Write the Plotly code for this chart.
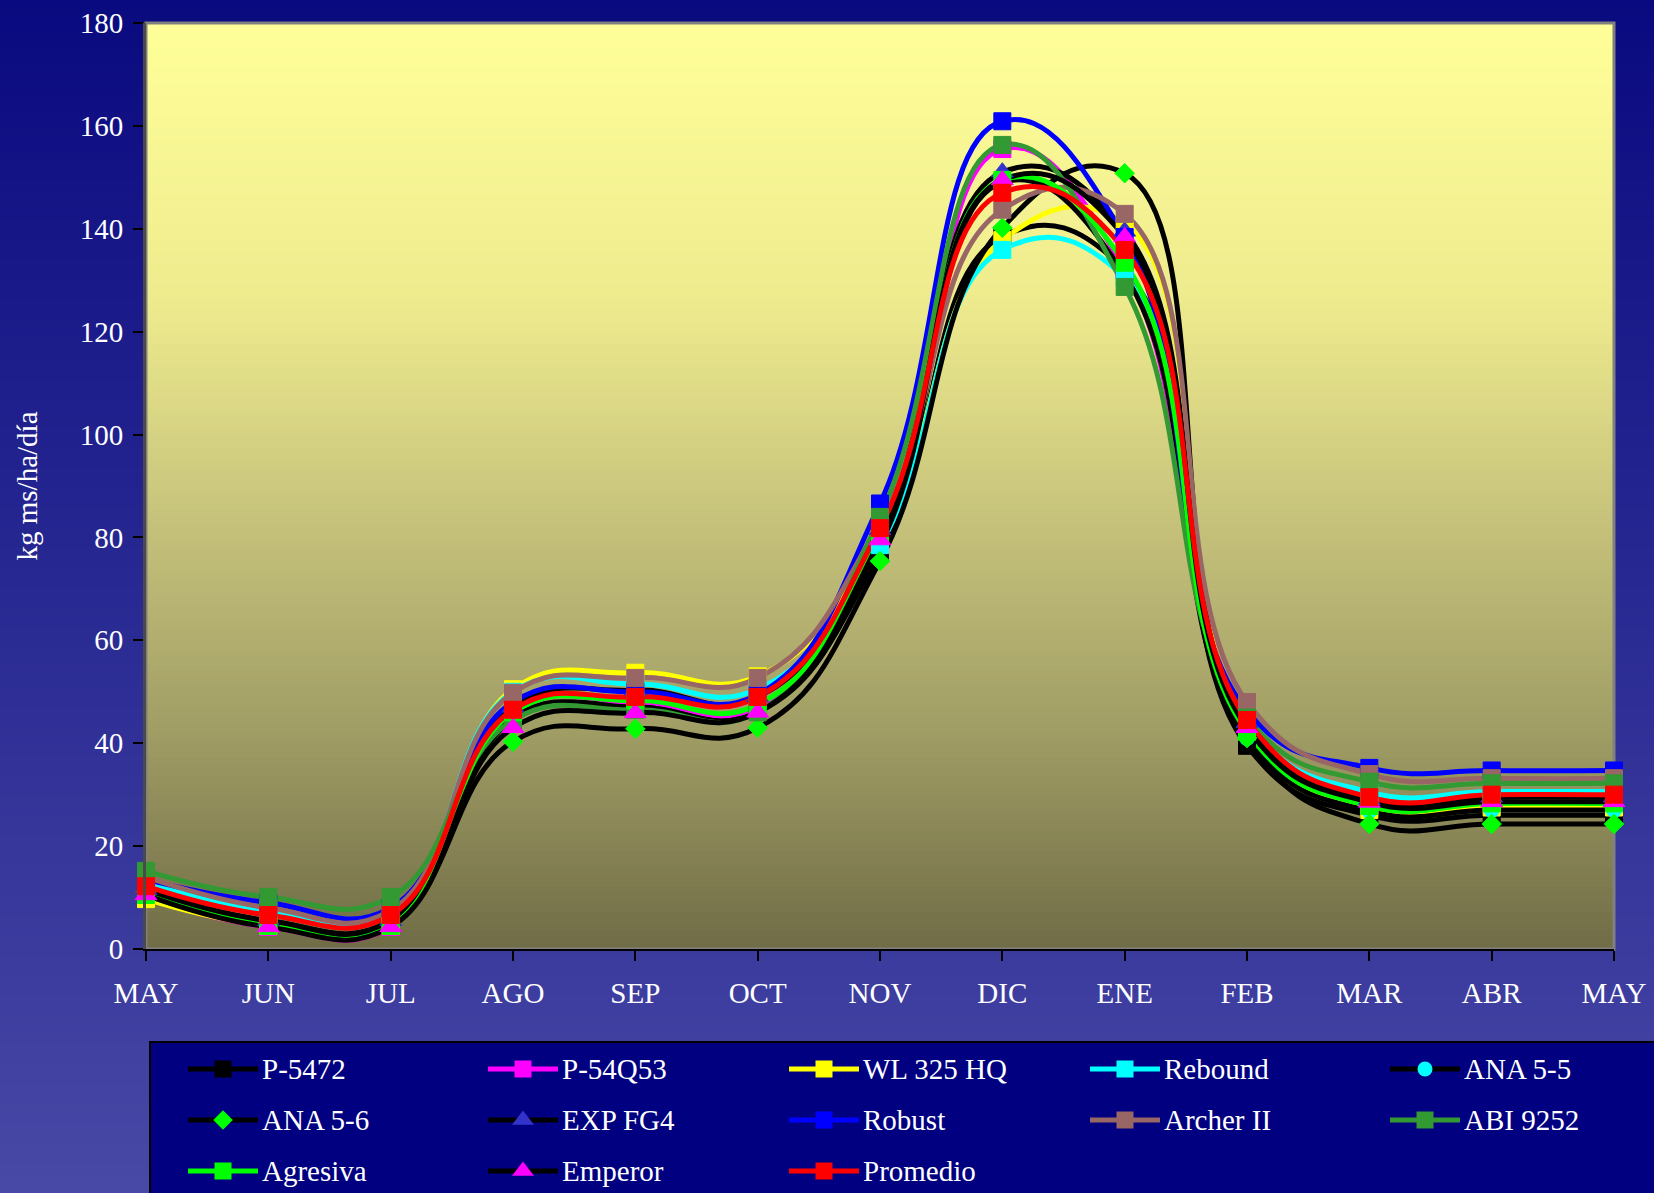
import plotly.graph_objects as go

# ---------------------------------------------------------------- data
months = ["MAY", "JUN", "JUL", "AGO", "SEP", "OCT", "NOV",
          "DIC", "ENE", "FEB", "MAR", "ABR", "MAY"]

p_5472    = [11.5, 5.5, 5.5, 44.5, 47.5, 46.5, 77.0, 138.5, 132.0, 39.5, 26.0, 26.0, 26.0]
p_54q53   = [10.0, 4.3, 4.3, 46.5, 48.0, 47.0, 79.0, 155.5, 132.0, 43.0, 27.6, 28.0, 28.0]
wl_325_hq = [9.7, 4.5, 4.5, 50.5, 53.7, 53.0, 80.0, 137.8, 141.0, 43.0, 27.0, 27.5, 27.5]
rebound   = [13.0, 7.5, 7.0, 50.0, 51.5, 50.5, 78.5, 135.9, 130.5, 44.0, 30.5, 30.6, 30.6]
ana_5_5   = [11.0, 5.0, 5.0, 45.0, 47.0, 46.0, 78.5, 149.0, 131.0, 41.0, 26.8, 27.0, 27.0]
ana_5_6   = [11.0, 5.0, 5.0, 40.3, 42.8, 43.0, 75.4, 140.2, 150.8, 41.0, 24.3, 24.3, 24.3]
exp_fg4   = [11.5, 5.5, 5.5, 47.0, 50.3, 49.0, 81.5, 151.0, 139.5, 44.0, 29.0, 29.5, 29.5]
robust    = [13.5, 9.0, 8.0, 48.0, 50.0, 49.5, 86.6, 160.9, 138.4, 46.3, 35.2, 34.7, 34.7]
archer_ii = [14.0, 8.0, 7.5, 49.8, 52.7, 52.7, 83.0, 143.7, 142.9, 48.0, 34.0, 33.2, 33.2]
abi_9252  = [15.2, 10.1, 10.1, 44.5, 46.5, 46.0, 84.0, 156.3, 128.7, 45.0, 32.5, 32.2, 32.2]
agresiva  = [10.5, 4.5, 4.5, 46.0, 48.3, 47.5, 81.0, 149.5, 133.4, 42.2, 27.8, 28.3, 28.3]
emperor   = [10.5, 4.3, 4.3, 43.0, 45.9, 46.0, 79.5, 149.5, 138.4, 43.0, 28.5, 28.6, 28.6]
promedio  = [12.2, 6.6, 6.6, 46.5, 49.0, 49.0, 81.8, 147.0, 135.9, 44.5, 29.5, 30.0, 30.0]

names = ["P-5472", "P-54Q53", "WL 325 HQ", "Rebound", "ANA 5-5",
         "ANA 5-6", "EXP FG4", "Robust", "Archer II", "ABI 9252",
         "Agresiva", "Emperor", "Promedio"]
values = [p_5472, p_54q53, wl_325_hq, rebound, ana_5_5,
          ana_5_6, exp_fg4, robust, archer_ii, abi_9252,
          agresiva, emperor, promedio]

# ---------------------------------------------------------------- styles
# (line colour, marker symbol, marker colour, marker size)
styles = [
    ("#000000", "square", "#000000", 17),
    ("#FF00FF", "square", "#FF00FF", 17),
    ("#FFFF00", "square", "#FFFF00", 17),
    ("#00FFFF", "square", "#00FFFF", 17),
    ("#000000", "circle", "#00FFFF", 15),
    ("#000000", "diamond", "#00FF00", 15),
    ("#000000", "triangle-up", "#3333CC", 19),
    ("#0000FF", "square", "#0000FF", 17),
    ("#996666", "square", "#996666", 17),
    ("#339933", "square", "#339933", 17),
    ("#00FF00", "square", "#00FF00", 17),
    ("#000000", "triangle-up", "#FF00FF", 19),
    ("#FF0000", "square", "#FF0000", 17),
]

FONT = "Liberation Serif, Times New Roman, serif"
FS = 29

W, H = 1654, 1193
L, R, T = 146, 40, 23
PLOT_BOTTOM = 949
LEGEND_TOP = 1042
plot_w = W - L - R
plot_h = H - T


def py(px):
    return (H - px) / plot_h


def pxx(x):
    return (x - L) / plot_w


def interp(stops, t):
    for (t0, c0), (t1, c1) in zip(stops, stops[1:]):
        if t <= t1:
            f = 0 if t1 == t0 else (t - t0) / (t1 - t0)
            return tuple(a + (b - a) * f for a, b in zip(c0, c1))
    return stops[-1][1]


def rgb(c):
    return "rgb(%d,%d,%d)" % tuple(round(v) for v in c)


shapes = []

# page background: dark navy fading to a lighter blue
page_stops = [(0.0, (10, 10, 128)), (1.0, (72, 72, 166))]
nb = 120
for i in range(nb):
    a, b = i * H / nb, (i + 1) * H / nb
    shapes.append(dict(type="rect", xref="paper", yref="paper",
                       x0=pxx(-5), x1=pxx(W + 5), y0=py(b + 1), y1=py(a),
                       fillcolor=rgb(interp(page_stops, (i + 0.5) / nb)),
                       line_width=0, layer="below"))

# plot area: pale yellow fading to olive
area_stops = [(0.0, (255, 255, 153)), (0.3, (238, 235, 142)),
              (0.55, (196, 192, 122)), (0.75, (163, 160, 103)),
              (1.0, (112, 108, 70))]
nb = 150
span = PLOT_BOTTOM - T
for i in range(nb):
    a, b = T + i * span / nb, T + (i + 1) * span / nb
    shapes.append(dict(type="rect", xref="paper", yref="paper",
                       x0=0, x1=1, y0=py(min(b + 1, PLOT_BOTTOM)), y1=py(a),
                       fillcolor=rgb(interp(area_stops, (i + 0.5) / nb)),
                       line_width=0, layer="below"))

# plot frame
shapes.append(dict(type="rect", xref="paper", yref="paper",
                   x0=0, x1=1, y0=py(PLOT_BOTTOM), y1=1,
                   line=dict(color="#808080", width=3), layer="below"))

# legend panel
shapes.append(dict(type="rect", xref="paper", yref="paper",
                   x0=pxx(150), x1=pxx(W + 20), y0=py(H + 20), y1=py(LEGEND_TOP),
                   fillcolor="#000080", line=dict(color="#000000", width=2),
                   layer="below"))

fig = go.Figure()
xs = list(range(len(months)))

# lines first, markers on top
for name, vals, (lc, sym, mc, ms) in zip(names, values, styles):
    fig.add_trace(go.Scatter(
        x=xs, y=vals, name=name, mode="lines",
        line=dict(color=lc, width=5, shape="spline", smoothing=1.3),
        cliponaxis=False, showlegend=False, hoverinfo="skip"))
for name, vals, (lc, sym, mc, ms) in zip(names, values, styles):
    fig.add_trace(go.Scatter(
        x=xs, y=vals, name=name, mode="markers",
        marker=dict(symbol=sym, color=mc, size=ms, opacity=1,
                    line=dict(color=mc, width=1)),
        cliponaxis=False, showlegend=False))

# legend, drawn on its own pixel-scaled axes
col_x = [188, 488, 789, 1090, 1390]
row_y = [1069, 1120, 1171]
annotations = []
for k, (name, (lc, sym, mc, ms)) in enumerate(zip(names, styles)):
    cx = col_x[k % 5]
    ry = -row_y[k // 5]
    fig.add_trace(go.Scatter(
        x=[cx, cx + 35, cx + 70], y=[ry, ry, ry], mode="lines+markers",
        line=dict(color=lc, width=5),
        marker=dict(symbol=sym, color=mc, size=[0, ms, 0], opacity=1,
                    line=dict(width=0)),
        xaxis="x2", yaxis="y2", cliponaxis=False, showlegend=False,
        hoverinfo="skip"))
    annotations.append(dict(x=cx + 72, y=ry, xref="x2", yref="y2", text=name,
                            showarrow=False, xanchor="left", yanchor="middle",
                            font=dict(family=FONT, size=FS, color="white")))

fig.update_layout(
    width=W, height=H,
    margin=dict(l=L, r=R, t=T, b=0, pad=0),
    paper_bgcolor="#0A0A80",
    plot_bgcolor="rgba(0,0,0,0)",
    font=dict(family=FONT, size=FS, color="white"),
    shapes=shapes,
    annotations=annotations,
    showlegend=False,
    xaxis=dict(domain=[0, 1], range=[0, 12], anchor="y",
               tickmode="array", tickvals=xs, ticktext=months,
               showline=True, linecolor="#000000", linewidth=2,
               ticks="outside", ticklen=10, tickwidth=2, tickcolor="#000000",
               ticklabelstandoff=7,
               tickfont=dict(family=FONT, size=FS, color="white"),
               showgrid=False, zeroline=False, automargin=False, fixedrange=True),
    yaxis=dict(domain=[py(PLOT_BOTTOM), 1], range=[0, 180], anchor="x",
               tickmode="linear", tick0=0, dtick=20,
               showline=True, linecolor="#4A4A4A", linewidth=3,
               ticks="outside", ticklen=10, tickwidth=2, tickcolor="#000000",
               ticklabelstandoff=4,
               tickfont=dict(family=FONT, size=FS, color="white"),
               title=dict(text="kg ms/ha/día", standoff=34,
                          font=dict(family=FONT, size=FS, color="white")),
               showgrid=False, zeroline=False, automargin=False, fixedrange=True),
    xaxis2=dict(domain=[0, 1], range=[L, W - R], anchor="y2", visible=False,
                fixedrange=True),
    yaxis2=dict(domain=[0, py(LEGEND_TOP)], range=[-H, -LEGEND_TOP], anchor="x2",
                visible=False, fixedrange=True),
)

fig.write_html("out.html")
